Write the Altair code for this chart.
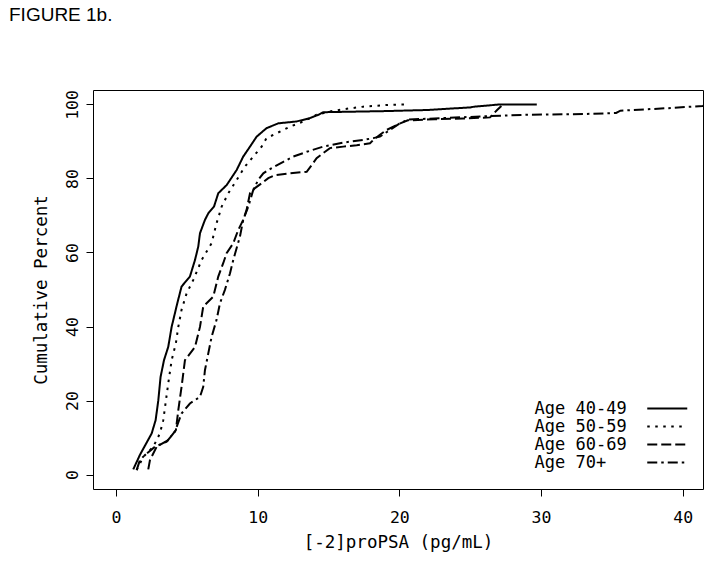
import altair as alt
import pandas as pd

# ---- data ----
groups = ["Age 40-49", "Age 50-59", "Age 60-69", "Age 70+"]

x_40 = [1.22, 1.69, 2.52, 2.8, 2.99, 3.15, 3.39, 3.69, 3.93, 4.33, 4.63, 5.22, 5.58, 5.81, 5.93,
        6.28, 6.52, 6.92, 7.22, 7.81, 8.52, 8.98, 9.46, 9.93, 10.63, 11.46, 12.75, 13.69, 14.28,
        14.63, 19.0, 22.0, 25.0, 25.3, 27.1, 29.7]
y_40 = [1.4, 5.3, 11.1, 14.7, 20.1, 26.4, 30.9, 34.5, 39.9, 46.3, 50.8, 53.5, 58, 61.6, 65.2,
        68.8, 70.6, 72.4, 76, 78.2, 82.3, 85.9, 88.6, 91.3, 93.6, 94.9, 95.4, 96.3, 97.2,
        97.9, 98.2, 98.5, 99.2, 99.4, 100, 100]

x_50 = [1.46, 1.93, 2.63, 3.1, 3.34, 3.53, 3.69, 3.93, 4.23, 4.4, 4.63, 4.99, 5.46, 6.05, 6.75,
        7.1, 7.46, 7.93, 8.52, 9.1, 9.69, 10.28, 10.63, 11.34, 12.28, 13.22, 14.16, 15.1, 16.04,
        17.45, 19.34, 20.7]
y_50 = [1.2, 4.8, 7.5, 11.1, 14.7, 20.1, 24.6, 30.9, 35.5, 39.9, 44.5, 49, 52.6, 58, 62.5,
        67.9, 72.4, 76, 79.6, 83.2, 85.9, 88.6, 90.9, 92.2, 94, 95.4, 97.2, 98.1, 98.7,
        99.4, 99.9, 100]

x_60 = [2.28, 2.4, 2.87, 3.69, 4.23, 4.4, 4.63, 4.87, 5.58, 5.93, 6.16, 6.87, 7.22, 7.57, 7.81,
        8.28, 8.63, 8.98, 9.22, 9.46, 9.81, 10.28, 10.75, 11.22, 12.28, 13.46, 13.81, 14.16,
        15.1, 16.04, 16.99, 17.93, 18.16, 18.63, 19.1, 20.0, 20.6, 22.5, 24.5, 26.4, 26.9, 27.2]
y_60 = [1.4, 3.9, 7.5, 9.3, 12, 17.4, 23.7, 30.9, 34.5, 39.9, 45.4, 48.1, 53.5, 57.1, 59.8,
        62.5, 66.1, 68.8, 71.5, 76, 77.4, 78.7, 80.1, 80.9, 81.4, 81.8, 83.6, 85.5,
        88.2, 88.6, 89, 89.5, 90.4, 91.8, 93.1, 94.8, 95.7, 96, 96.2, 96.5, 98.5, 99.6]

x_70 = [1.46, 1.69, 2.05, 2.75, 3.58, 4.16, 4.63, 5.22, 5.93, 6.16, 6.28, 6.52, 6.75, 7.1, 7.34,
        7.69, 8.05, 8.28, 8.75, 8.98, 9.34, 9.69, 10.04, 10.4, 10.99, 11.81, 12.51, 13.46, 14.63,
        16.04, 17.45, 18.16, 18.63, 18.98, 19.34, 20.0, 20.6, 23.0, 26.0, 29.0, 33.0, 35.3, 35.6,
        39.0, 41.4, 42.5]
y_70 = [1.2, 3.9, 5.3, 7.5, 8.9, 11.6, 16.5, 19.2, 21, 23.7, 28.2, 32.8, 37.2, 41.8, 46.3,
        49.9, 54.4, 58, 64.3, 68.8, 72.4, 76.9, 79.6, 81.4, 82.8, 84.5, 85.9, 87.2, 88.6,
        89.7, 90.4, 90.9, 91.3, 92.2, 93.1, 94.8, 95.9, 96.3, 96.8, 97.2, 97.4, 97.7, 98.3,
        99.0, 99.6, 100]

x_ticks = [0, 10, 20, 30, 40]
y_ticks = [0, 20, 40, 60, 80, 100]

series = [(groups[0], x_40, y_40), (groups[1], x_50, y_50),
          (groups[2], x_60, y_60), (groups[3], x_70, y_70)]
rows = []
for g, xs, ys in series:
    for i, (xv, yv) in enumerate(zip(xs, ys)):
        rows.append({"x": xv, "y": yv, "group": g, "order": i})
df = pd.DataFrame(rows)

dashes = [[1, 0], [2.5, 5.5], [10, 4], [10, 4, 2.5, 4]]

MONO = "DejaVu Sans Mono"

chart = alt.Chart(df).mark_line(strokeWidth=2, color="black", clip=True).encode(
    x=alt.X("x:Q",
            scale=alt.Scale(domain=[-1.62, 41.43], nice=False, zero=False),
            axis=alt.Axis(values=x_ticks, title="[-2]proPSA (pg/mL)", format="d",
                          labelPadding=13, titlePadding=8)),
    y=alt.Y("y:Q",
            scale=alt.Scale(domain=[-3.9, 103.9], nice=False, zero=False),
            axis=alt.Axis(values=y_ticks, title="Cumulative Percent", format="d",
                          labelAngle=270, labelAlign="center", labelBaseline="bottom",
                          labelPadding=6, titlePadding=14)),
    strokeDash=alt.StrokeDash("group:N",
                              scale=alt.Scale(domain=groups, range=dashes),
                              legend=alt.Legend(
                                  title=None, orient="none", legendX=442, legendY=310,
                                  symbolType="M-4,0H4", symbolSize=100,
                                  symbolStrokeWidth=2, symbolStrokeColor="black",
                                  symbolFillColor="transparent",
                                  labelOffset={"expr": "-141.25"}, symbolOffset=123.75,
                                  labelFont=MONO, labelFontSize=17, labelColor="black",
                                  rowPadding=0, padding=0)),
    order="order:Q",
).properties(
    width=610, height=399,
    autosize=alt.AutoSizeParams(type="none"),
    padding={"left": 85, "top": 82, "right": 2, "bottom": 64},
    title=alt.TitleParams("FIGURE 1b.", anchor="start", frame="group", dx=-84, offset=65,
                          font="Liberation Sans", fontSize=19, fontWeight="normal",
                          color="black"),
).configure_view(
    stroke="black", strokeWidth=1
).configure_axis(
    domain=False, grid=False, ticks=True, tickSize=7, tickColor="black", tickWidth=1,
    labelFont=MONO, labelFontSize=16.5, labelColor="black",
    titleFont=MONO, titleFontSize=17.5, titleFontWeight="normal", titleColor="black",
)

chart.save("out.html", embed_options={"renderer": "svg", "actions": False})
